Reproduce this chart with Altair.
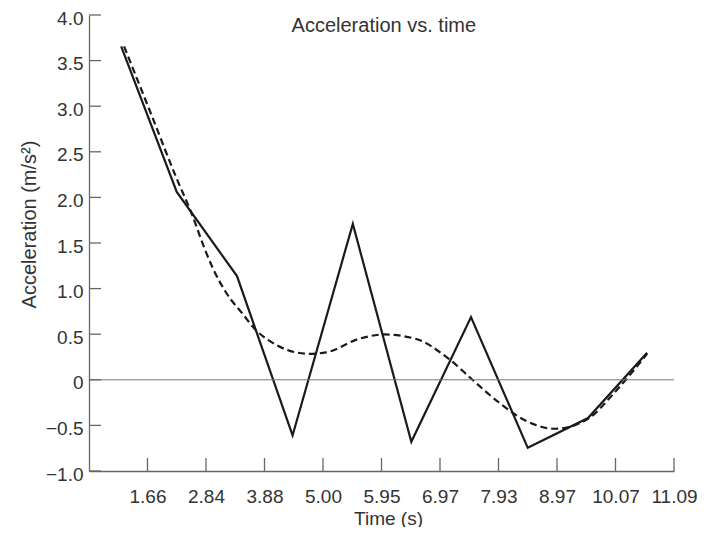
import altair as alt
import pandas as pd

# Tick labels of the time axis (equally spaced positions 1..10)
tick_pos = [1, 2, 3, 4, 5, 6, 7, 8, 9, 10]
tick_labels = ["1.66", "2.84", "3.88", "5.00", "5.95", "6.97", "7.93", "8.97", "10.07", "11.09"]

# Measured acceleration (solid line): position on the time axis and value
meas_pos = [0.55, 1.5, 2.53, 3.48, 4.51, 5.51, 6.53, 7.5, 8.53, 9.54]
meas_val = [3.655, 2.06, 1.137, -0.61, 1.71, -0.68, 0.687, -0.746, -0.42, 0.296]

# Smoothed fit (dashed line)
fit_pos = [0.6, 1.07, 1.49, 1.75, 2.0, 2.12, 2.34, 2.63, 2.86, 3.08, 3.42, 3.77,
           4.05, 4.62, 5.04, 5.58, 6.15, 6.55, 7.0, 7.46, 7.97, 8.53, 8.99, 9.54]
fit_val = [3.655, 2.90, 2.22, 1.83, 1.40, 1.22, 0.96, 0.72, 0.54, 0.43, 0.32, 0.285,
           0.30, 0.45, 0.497, 0.45, 0.23, 0.003, -0.245, -0.446, -0.537, -0.428, -0.135, 0.285]

y_ticks = [-1.0, -0.5, 0.0, 0.5, 1.0, 1.5, 2.0, 2.5, 3.0, 3.5, 4.0]

W, H = 585, 456
FONT = "Liberation Sans"
TXT = "#333333"
AXC = "#666666"

xscale = alt.Scale(domain=[0, 10], nice=False, zero=False)
yscale = alt.Scale(domain=[-1, 4], nice=False, zero=False)

meas = pd.DataFrame({"t": meas_pos, "a": meas_val})
fit = pd.DataFrame({"t": fit_pos, "a": fit_val})
xt = pd.DataFrame({"t": tick_pos})
yt = pd.DataFrame({"a": y_ticks})

label_arr = "[" + ",".join("'%s'" % s for s in tick_labels) + "]"

x_axis = alt.Axis(
    values=tick_pos,
    labelExpr=label_arr + "[datum.value - 1]",
    ticks=False, tickSize=0, grid=False,
    domainColor=AXC, domainWidth=1.3,
    labelFont=FONT, labelFontSize=19, labelColor=TXT, labelPadding=16,
    labelAlign="center", labelBaseline="top",
    title="Time (s)", titleFont=FONT, titleFontSize=19, titleFontWeight="normal",
    titleColor=TXT, titleX=299, titleY=38, titleAlign="center", titleBaseline="top",
)
y_axis = alt.Axis(
    values=y_ticks,
    labelExpr="datum.value == 0 ? '0' : replace(format(datum.value, '.1f'), '-', '\u2013')",
    ticks=False, tickSize=0, grid=False,
    domainColor=AXC, domainWidth=1.3,
    labelFont=FONT, labelFontSize=19, labelColor=TXT, labelPadding=6, labelOffset=3,
    labelAlign="right", labelBaseline="middle",
    title="Acceleration (m/s\u00b2)", titleFont=FONT, titleFontSize=20,
    titleFontWeight="normal", titleColor=TXT, titleX=-60, titleY=209,
    titleAngle=270, titleAlign="center", titleBaseline="middle",
)

solid = alt.Chart(meas).mark_line(color="#1a1a1a", strokeWidth=2.2).encode(
    x=alt.X("t:Q", scale=xscale, axis=x_axis),
    y=alt.Y("a:Q", scale=yscale, axis=y_axis),
    order="t:Q",
)

dashed = alt.Chart(fit).mark_line(
    color="#1a1a1a", strokeWidth=2.2, strokeDash=[7, 4], interpolate="monotone"
).encode(
    x=alt.X("t:Q", scale=xscale, axis=x_axis),
    y=alt.Y("a:Q", scale=yscale, axis=y_axis),
    order="t:Q",
)

zero = alt.Chart(yt).transform_filter("datum.a == 0").mark_rule(
    color="#777777", strokeWidth=1
).encode(
    y=alt.Y("a:Q", scale=yscale, axis=y_axis),
)

xticks = alt.Chart(xt).mark_rule(color=AXC, strokeWidth=1.3).encode(
    x=alt.X("t:Q", scale=xscale, axis=x_axis),
    y=alt.value(H),
    y2=alt.value(H - 13),
)

yticks = alt.Chart(yt).mark_rule(color=AXC, strokeWidth=1.3).encode(
    y=alt.Y("a:Q", scale=yscale, axis=y_axis),
    x=alt.value(0),
    x2=alt.value(12),
)

title = alt.Chart(pd.DataFrame({"label": ["Acceleration vs. time"]})).mark_text(
    font=FONT, fontSize=20, color=TXT, baseline="top", align="center", dy=1
).encode(
    x=alt.X(datum=5.04, scale=xscale, axis=x_axis),
    y=alt.Y(datum=4.0, scale=yscale, axis=y_axis),
    text="label:N",
)

chart = alt.layer(solid, dashed, zero, xticks, yticks, title).properties(
    width=W, height=H,
    background="white",
    view=alt.ViewBackground(stroke="transparent", strokeWidth=0),
    autosize=alt.AutoSizeParams(type="none"),
    padding={"left": 81, "top": 7, "right": 24, "bottom": 56},
).configure_view(stroke="transparent", strokeWidth=0)

chart.save("out.html", embed_options={"renderer": "svg", "actions": False})
